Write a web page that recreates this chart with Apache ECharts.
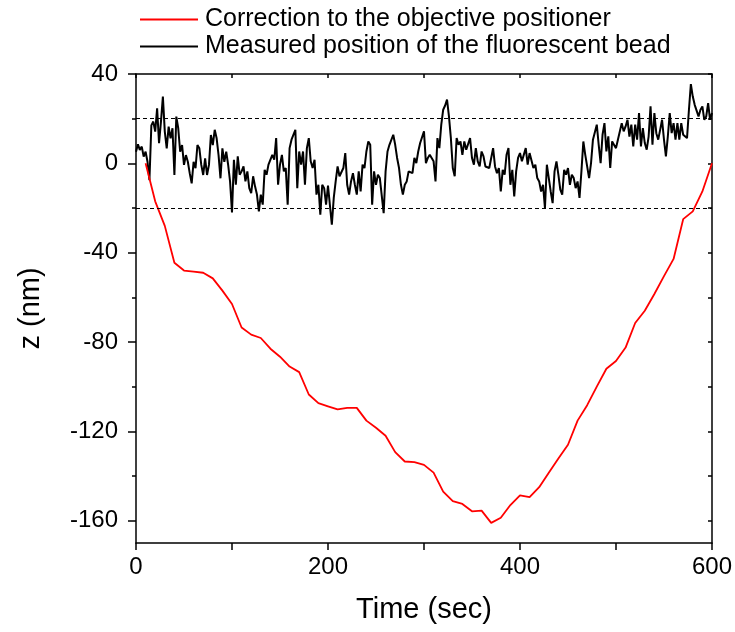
<!DOCTYPE html>
<html>
<head>
<meta charset="utf-8">
<script src="https://cdn.jsdelivr.net/npm/echarts@6/dist/echarts.min.js"></script>
<style>
html,body{margin:0;padding:0;background:#fff;}
#chart{width:735px;height:632px;}
</style>
</head>
<body>
<div id="chart"></div>
<script>
// ---- Data ----
const seriesNames = ['Correction to the objective positioner', 'Measured position of the fluorescent bead'];

// Red curve: correction to the objective positioner (time in s, z in nm)
const correctionTime = [10,20,30,40,50,60,70,80,90,100,110,120,130,140,150,160,170,180,190,200,
  210,220,230,240,250,260,270,280,290,300,310,320,330,340,350,360,370,380,390,400,
  410,420,430,440,450,460,470,480,490,500,510,520,530,540,550,560,570,580,590,600];
const correctionZ = [0,-17,-28,-44.5,-48,-48.5,-49,-51.5,-57,-63,-73.5,-76.7,-78.2,-83,-86.6,-91,-93.5,-103.5,-107.4,-108.8,
  -110.2,-109.5,-109.5,-115.2,-118.4,-122,-129.3,-133.5,-133.8,-135,-138.5,-147,-151.3,-152.5,-155.8,-155.5,-161,-158.7,-153,-148.7,
  -149.5,-145,-138.5,-132.2,-126,-115.2,-108.3,-100,-92,-88.5,-82.5,-71.5,-66,-58.5,-50.5,-42.8,-25,-21.5,-12.6,0];

// Black trace: measured bead position, sampled every 2 s from t = 0 to 600 s
const beadSampleStep = 2;
const beadZ = [
  5.2,8.5,6.0,7.5,3.0,5.2,0.7,-7.5,17,18.7,14.2,24.6,9.0,18.7,29.9,14.2,6.7,16.4,11.2,15.7,
  -5.2,20.9,15.7,5.2,8.2,-0.7,3.7,0.7,-4.5,-9.0,0.7,-2.2,8.2,6.7,-0.7,-5.2,2.2,-5.2,-0.7,12.7,
  8.2,15,11.2,3.7,-6.7,6.7,0.7,5.2,-0.7,-8.2,-22,
  1.6,-9.6,3.1,-5.1,-3.6,-1.4,-8.1,-3.6,-11.1,-13.3,-5.8,-10.3,-14.0,-21.5,-14,-18.5,-2.9,-5.1,-0.6,-1.4,
  3.8,1.6,11.3,-9.6,-0.6,3.8,-3.6,-2.1,-18.5,6.8,10.6,11.3,15.0,-11.1,5.3,-0.6,5.3,-9.6,6.8,11.3,
  0.9,-2.1,1.6,-14,-9.6,-23,-9.6,-11.1,-18.5,-10,
  -9.6,-27.5,-15.5,-8.1,-1.4,-5.8,-5.8,-2.1,4.6,-9.6,-14,-8.1,-4.4,-9.6,-14,-3.6,-12.6,-0.6,-2.1,5.3,
  9.8,8.3,-18.5,-3.6,-9.6,-5.1,-6.6,-6.6,-22.3,-3.6,5.3,8.3,7.6,12.8,8.3,2.4,-2.1,-9.6,-14,-9.6,
  -8.1,-3.6,-3.6,-4.4,2.4,0.1,5.3,9.1,9.8,14.3,
  0.1,2.4,3.8,3.1,0.9,-8.1,11.3,6.8,17.3,24,25.9,28.5,21,11.3,-2.1,-5.8,11.3,8.3,9.8,3.8,
  9.8,6.1,6.1,11.3,2.4,-0.6,6.8,0.9,-1.4,5.3,3.1,-1.4,-0.6,-2.1,2.4,6.8,-1.4,-4.4,-2.1,-12.6,
  -2.9,-5.1,3.8,6.8,-9.6,-2.9,-14.8,-3.6,2.4,4.6,
  0.9,0.9,6.8,-0.6,4.6,3.8,-2.1,-0.6,-6.6,-8.1,-12.6,-9.6,-20,-0.6,-1.4,-12.6,-17.8,-3.6,0.9,-5.1,
  -11.8,-14,-2.9,-5.1,-2.1,-9.6,-5.1,-6.6,-11.1,-8.1,-15.5,-3.6,9.8,3.8,3.1,-6.6,0.1,10.6,9.8,17.3,
  8.3,0.1,12.8,18,5.3,12.1,-2.1,9.8,10.6,6.8,
  10.6,9.8,18,14.3,16.5,19.5,12,17.3,7.6,17.3,10.6,22.5,7.6,15.8,9.1,6.1,12,25.5,8.3,22.5,
  13.5,10.6,15,19.5,10.6,3.1,12,22.5,13.5,18,10.6,18,10.6,18,12.8,12,11.3,24,35.5,29.9,
  26.2,25.5,21,24,25.5,19.5,21,27,19.5,22.5
];

// Axis ticks / labels
const xMin = 0, xMax = 600;
const xLabelTicks = [0, 200, 400, 600];
const xAllTicks = [0, 100, 200, 300, 400, 500, 600];
const yMin = -170, yMax = 40;
const yLabelTicks = [40, 0, -40, -80, -120, -160];
const yMinorTicks = [20, -20, -60, -100, -140];
const yRightTicks = [40, 20, 0, -20, -40, -60, -80, -100, -120, -140, -160];
const guideLines = [20, -20];

// ---- Build chart ----
const correctionData = correctionTime.map((t, i) => [t, correctionZ[i]]);
const beadData = beadZ.map((z, i) => [i * beadSampleStep, z]);

const font = "'Liberation Sans', Arial, sans-serif";
const chart = echarts.init(document.getElementById('chart'), null, {renderer: 'canvas'});

const axisLineStyle = {color: '#000', width: 1.5};
const tickStyle = {color: '#000', width: 1.5};

chart.setOption({
  animation: false,
  backgroundColor: '#fff',
  textStyle: {fontFamily: font},
  legend: {
    data: [seriesNames[0], seriesNames[1]],
    orient: 'vertical',
    left: 135,
    top: 2,
    itemWidth: 58,
    itemHeight: 2,
    itemGap: 2,
    icon: 'rect',
    textStyle: {fontFamily: font, fontSize: 25, color: '#000', padding: [0, 0, 0, 2]}
  },
  grid: {left: 136, right: 23, top: 74, bottom: 89, containLabel: false},
  xAxis: [
    {
      type: 'value', position: 'bottom', min: xMin, max: xMax,
      name: 'Time (sec)', nameLocation: 'middle', nameGap: 52,
      nameTextStyle: {fontFamily: font, fontSize: 29, color: '#000'},
      axisLine: {show: true, onZero: false, lineStyle: axisLineStyle},
      axisTick: {show: true, inside: false, length: 7, customValues: xAllTicks, lineStyle: tickStyle},
      axisLabel: {fontFamily: font, fontSize: 24, color: '#000', margin: 12, customValues: xLabelTicks},
      splitLine: {show: false}
    },
    {
      type: 'value', position: 'top', min: xMin, max: xMax,
      axisLine: {show: true, onZero: false, lineStyle: axisLineStyle},
      axisTick: {show: true, inside: true, length: 4, customValues: xAllTicks, lineStyle: tickStyle},
      axisLabel: {show: false},
      splitLine: {show: false}
    }
  ],
  yAxis: [
    {
      type: 'value', position: 'left', min: yMin, max: yMax,
      name: 'z (nm)', nameLocation: 'middle', nameGap: 91, nameRotate: 90,
      nameTextStyle: {fontFamily: font, fontSize: 29, color: '#000'},
      axisLine: {show: true, onZero: false, lineStyle: axisLineStyle},
      axisTick: {show: true, inside: false, length: 8, customValues: yLabelTicks, lineStyle: tickStyle},
      axisLabel: {fontFamily: font, fontSize: 24, color: '#000', margin: 18, customValues: yLabelTicks},
      splitLine: {show: false}
    },
    {
      type: 'value', position: 'left', min: yMin, max: yMax,
      axisLine: {show: false, onZero: false},
      axisTick: {show: true, inside: false, length: 4, customValues: yMinorTicks, lineStyle: tickStyle},
      axisLabel: {show: false},
      splitLine: {show: false}
    },
    {
      type: 'value', position: 'right', min: yMin, max: yMax,
      axisLine: {show: true, onZero: false, lineStyle: axisLineStyle},
      axisTick: {show: true, inside: true, length: 4, customValues: yRightTicks, lineStyle: tickStyle},
      axisLabel: {show: false},
      splitLine: {show: false}
    }
  ],
  series: [
    {
      name: seriesNames[1], type: 'line', data: beadData,
      xAxisIndex: 0, yAxisIndex: 0,
      showSymbol: false, symbol: 'none',
      lineStyle: {color: '#000', width: 2},
      itemStyle: {color: '#000'},
      z: 2,
      markLine: {
        silent: true, symbol: ['none', 'none'],
        label: {show: false},
        lineStyle: {color: '#000', width: 1, type: [4, 3]},
        data: guideLines.map(v => ({yAxis: v}))
      }
    },
    {
      name: seriesNames[0], type: 'line', data: correctionData,
      xAxisIndex: 0, yAxisIndex: 0,
      showSymbol: false, symbol: 'none',
      lineStyle: {color: '#ff0000', width: 1.8},
      itemStyle: {color: '#ff0000'},
      z: 3
    }
  ]
});
</script>
</body>
</html>
